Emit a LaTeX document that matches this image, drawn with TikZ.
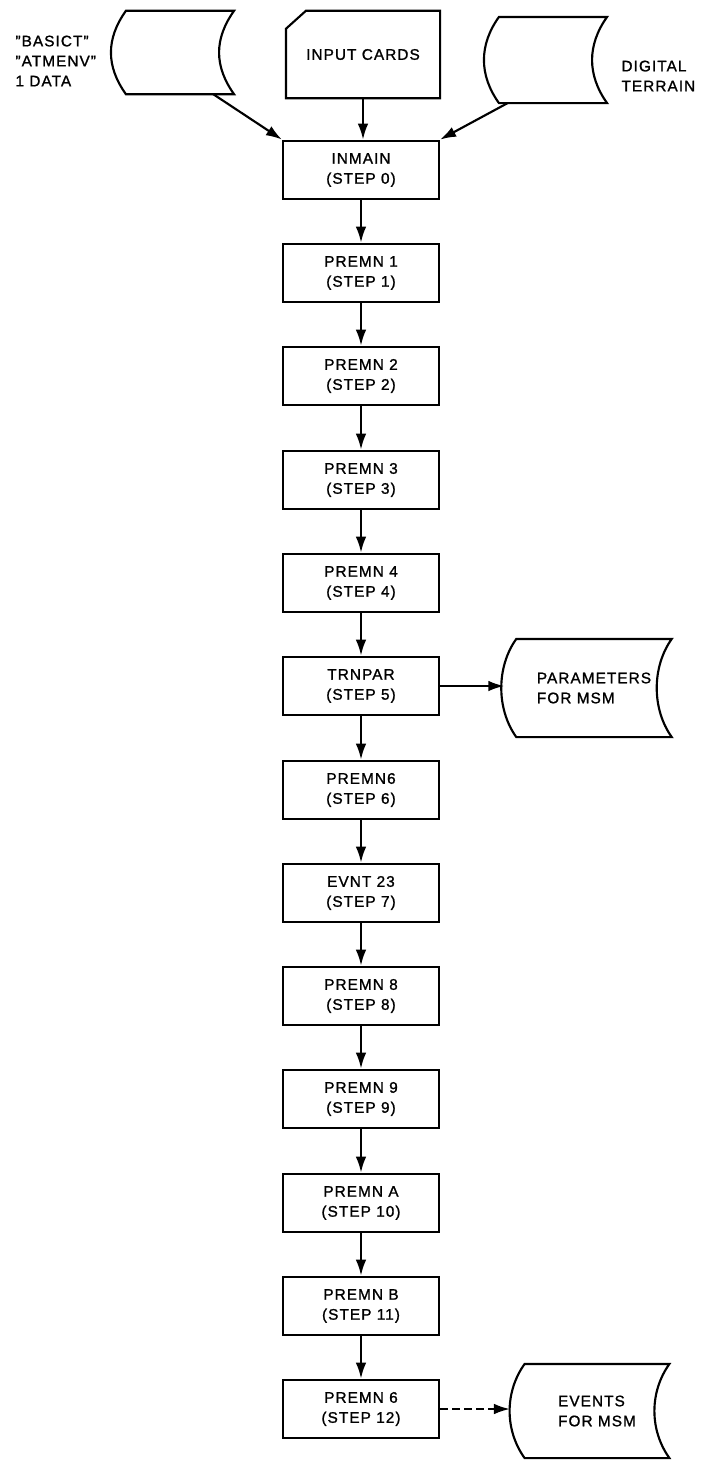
\documentclass[tikz,border=0pt]{standalone}
\usepackage{fontspec}
\setmainfont{Liberation Sans}[LetterSpace=7, FakeBold=1.2]
\usetikzlibrary{arrows.meta}
\newcommand\tapeoutline[1]{%
  \draw (#1.north west) -- (#1.north east)
    .. controls +(-20,28) and +(-20,-28) .. (#1.south east) -- (#1.south west)
    .. controls +(-20,-28) and +(-20,28) .. (#1.north west) -- cycle;}
\newcommand\dq{\char34}
\begin{document}
\begin{tikzpicture}[x=0.75pt, y=-0.75pt, line width=1.6pt, >={Latex[length=12pt,width=8pt]},
  font=\fontsize{11.5}{15}\selectfont,
  stepbox/.style={draw, minimum width=117pt, minimum height=44pt, inner sep=0pt, align=center},
  tapebox/.style={inner sep=0pt, align=left}]
\useasboundingbox (0,0) rectangle (701,1461);
\node[tapebox, minimum width=79.5pt, minimum height=61pt] (basict) at (180,52.5) {};
\node[align=left, anchor=west] (basictlabel) at (10,61) {\dq BASICT\dq\\\dq ATMENV\dq\\1 DATA};
\node[minimum width=114pt, minimum height=64pt, inner sep=0pt] (cards) at (363,54.5) {INPUT CARDS};
\node[tapebox, minimum width=79.5pt, minimum height=63pt] (terrain) at (553,60) {};
\node[align=left, anchor=west] (terrainlabel) at (616,76) {DIGITAL\\TERRAIN};
\node[stepbox] (inmain) at (361,170) {INMAIN\\(STEP 0)};
\node[stepbox] (premn1) at (361,273) {PREMN 1\\(STEP 1)};
\node[stepbox] (premn2) at (361,376) {PREMN 2\\(STEP 2)};
\node[stepbox] (premn3) at (361,480) {PREMN 3\\(STEP 3)};
\node[stepbox] (premn4) at (361,583) {PREMN 4\\(STEP 4)};
\node[stepbox] (trnpar) at (361,686) {TRNPAR\\(STEP 5)};
\node[stepbox] (premn6) at (361,790) {PREMN6\\(STEP 6)};
\node[stepbox] (evnt23) at (361,893) {EVNT 23\\(STEP 7)};
\node[stepbox] (premn8) at (361,996) {PREMN 8\\(STEP 8)};
\node[stepbox] (premn9) at (361,1099) {PREMN 9\\(STEP 9)};
\node[stepbox] (premna) at (361,1203) {PREMN A\\(STEP 10)};
\node[stepbox] (premnb) at (361,1306) {PREMN B\\(STEP 11)};
\node[stepbox] (premnc) at (361,1409) {PREMN 6\\(STEP 12)};
\node[tapebox, minimum width=115pt, minimum height=72pt, xshift=-6pt] (params) at (602,688) {PARAMETERS\\FOR MSM};
\node[tapebox, minimum width=107pt, minimum height=69pt] (events) at (597,1411) {EVENTS\\FOR MSM};
\tapeoutline{basict}
\tapeoutline{terrain}
\tapeoutline{params}
\tapeoutline{events}
\draw ([xshift=15pt]cards.north west) -- (cards.north east) -- (cards.south east) -- (cards.south west) -- ([yshift=-13.5pt]cards.north west) -- cycle;
\draw[->] ([xshift=25pt]basict.south) -- (inmain.north west);
\draw[->] (cards.south) -- (cards.south |- inmain.north);
\draw[->] ([xshift=-34pt]terrain.south) -- (inmain.north east);
\draw[->] (inmain) -- (premn1);
\draw[->] (premn1) -- (premn2);
\draw[->] (premn2) -- (premn3);
\draw[->] (premn3) -- (premn4);
\draw[->] (premn4) -- (trnpar);
\draw[->] (trnpar) -- (premn6);
\draw[->] (premn6) -- (evnt23);
\draw[->] (evnt23) -- (premn8);
\draw[->] (premn8) -- (premn9);
\draw[->] (premn9) -- (premna);
\draw[->] (premna) -- (premnb);
\draw[->] (premnb) -- (premnc);
\draw[->] (trnpar.east) -- ([xshift=-9pt]trnpar.east -| params.west);
\draw[->, dash pattern=on 6pt off 3pt] (premnc.east) -- ([xshift=-11pt]premnc.east -| events.west);
\end{tikzpicture}
\end{document}
